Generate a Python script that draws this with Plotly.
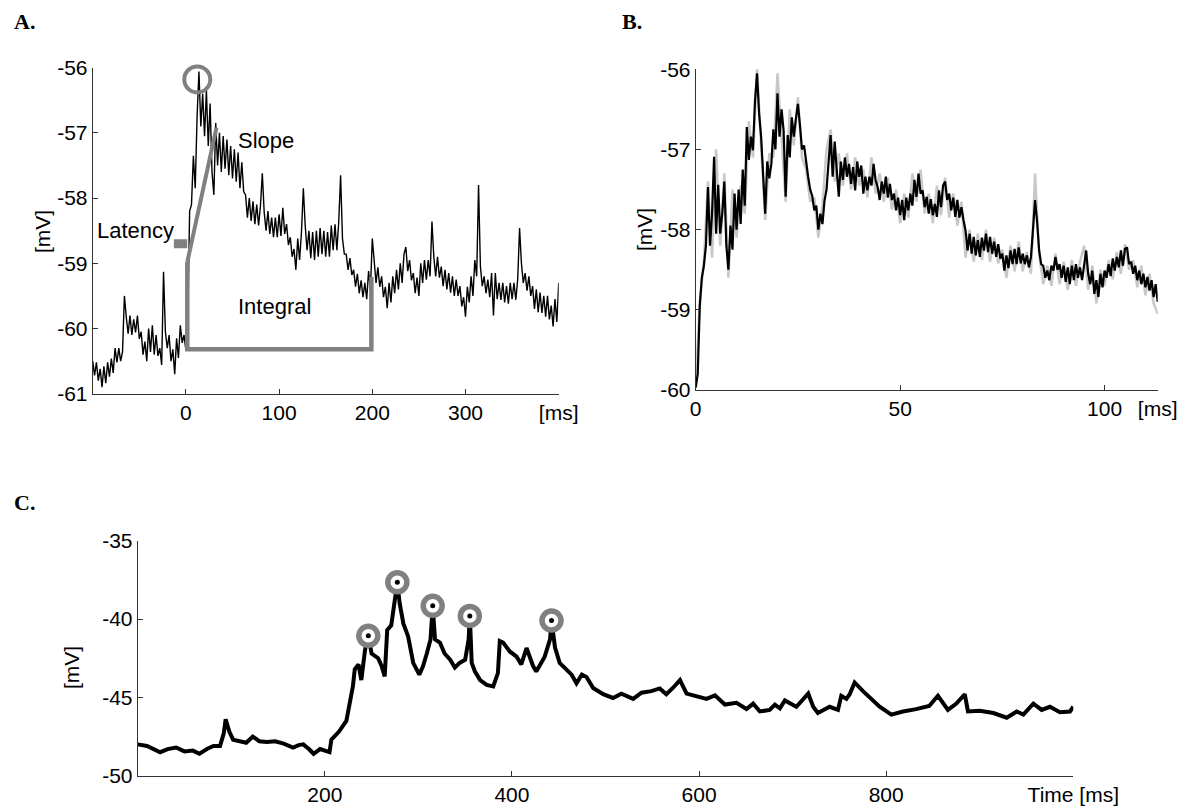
import plotly.graph_objects as go

# ---------------- Panel A: averaged response, sampled every 2 ms from -100 ms ----------------
A_T0 = -100
A_DT = 2
a_mv = [
    -60.50, -60.72, -60.52, -60.80, -60.62, -60.90, -60.58, -60.84, -60.52, -60.74,
    -60.46, -60.68, -60.30, -60.52, -60.30, -60.50, -60.36, -59.50, -59.82, -60.08,
    -59.80, -60.10, -59.86, -60.06, -59.80, -60.16, -60.05, -60.40, -60.20, -60.50,
    -60.00, -60.36, -59.95, -60.40, -60.10, -60.42, -60.30, -60.56, -59.13, -60.05,
    -60.30, -60.10, -60.50, -60.32, -60.70, -60.15, -60.45, -59.95, -60.22, -60.10,
    -60.34, -59.90, -58.20, -58.10, -57.35, -57.85, -56.75, -56.06, -56.90, -56.40,
    -57.05, -56.35, -57.20, -56.55, -57.60, -57.95, -56.85, -57.50, -57.00, -57.60,
    -57.05, -57.55, -57.10, -57.65, -57.20, -57.70, -57.25, -57.75, -57.30, -57.85,
    -57.45, -57.90, -57.95, -58.30, -58.00, -58.35, -58.05, -58.40, -58.10, -58.42,
    -58.12, -57.62, -58.22, -58.50, -58.20, -58.55, -58.30, -58.60, -58.30, -58.60,
    -58.25, -58.58, -58.15, -58.55, -58.40, -58.72, -58.60, -58.90, -58.78, -59.10,
    -58.62, -58.95, -58.52, -57.85, -58.42, -58.80, -58.50, -58.92, -58.52, -58.95,
    -58.50, -58.90, -58.46, -58.86, -58.50, -58.90, -58.52, -58.90, -58.42, -58.80,
    -58.40, -58.80, -58.36, -57.65, -58.62, -58.86, -58.86, -59.10, -58.92, -59.18,
    -59.10, -59.36, -59.16, -59.46, -59.26, -59.52, -59.30, -59.55, -59.12, -59.40,
    -58.62, -59.02, -59.30, -59.06, -59.36, -59.20, -59.52, -59.36, -59.69, -59.30,
    -59.60, -59.20, -59.46, -59.10, -59.40, -59.00, -59.30, -58.86, -58.75, -59.12,
    -58.95, -59.26, -59.15, -59.46, -59.22, -59.50, -59.00, -59.30, -58.95, -59.25,
    -58.95, -59.20, -58.36, -58.90, -59.20, -58.90, -59.22, -59.05, -59.35, -59.10,
    -59.40, -59.15, -59.45, -59.20, -59.50, -59.25, -59.50, -59.35, -59.66, -59.52,
    -59.82, -59.36, -59.60, -59.20, -59.50, -58.95, -59.20, -57.80, -59.05, -59.35,
    -59.20, -59.46, -59.25, -59.52, -59.15, -59.80, -59.15, -59.55, -59.30, -59.56,
    -59.30, -59.60, -59.35, -59.62, -59.30, -59.55, -59.30, -59.56, -59.25, -58.46,
    -59.00, -59.30, -59.15, -59.42, -59.20, -59.50, -59.35, -59.70, -59.40, -59.75,
    -59.45, -59.76, -59.50, -59.82, -59.50, -59.86, -59.65, -59.97, -59.55, -59.90,
    -59.30,
]
a_ms = [A_T0 + A_DT * i for i in range(len(a_mv))]

# ---------------- Panel B: single response (black) over a second sweep (grey) ----------------
B_DT = 0.5
b_mv = [
    -59.97, -59.80, -58.95, -58.60, -58.45, -58.20, -57.47, -58.20, -57.80, -57.09,
    -58.05, -57.44, -58.05, -57.80, -57.40, -58.20, -58.50, -57.95, -58.25, -57.55,
    -58.00, -57.50, -57.93, -57.25, -57.70, -56.72, -57.13, -56.84, -57.01, -56.40,
    -56.05, -56.55, -56.84, -57.42, -57.80, -57.15, -57.36, -57.18, -56.75, -57.00,
    -56.30, -56.84, -56.50, -56.76, -57.59, -56.82, -57.10, -56.60, -56.84, -56.62,
    -56.43, -56.70, -57.00, -56.95, -57.18, -57.34, -57.50, -57.58, -57.76, -57.70,
    -58.00, -57.80, -57.93, -57.64, -57.50, -57.10, -56.82, -57.34, -56.90, -57.26,
    -57.59, -57.15, -57.38, -57.10, -57.34, -57.18, -57.43, -57.22, -57.51, -57.15,
    -57.34, -57.20, -57.55, -57.34, -57.51, -57.34, -57.45, -57.18, -57.38, -57.47,
    -57.63, -57.40, -57.55, -57.34, -57.60, -57.43, -57.63, -57.55, -57.76, -57.60,
    -57.82, -57.63, -57.88, -57.60, -57.76, -57.55, -57.70, -57.38, -57.59, -57.30,
    -57.55, -57.51, -57.72, -57.59, -57.80, -57.62, -57.82, -57.68, -57.84, -57.51,
    -57.72, -57.45, -57.40, -57.63, -57.55, -57.76, -57.60, -57.84, -57.63, -57.85,
    -57.72, -57.88, -58.01, -58.26, -58.05, -58.30, -58.09, -58.32, -58.13, -58.34,
    -58.10, -58.26, -58.05, -58.28, -58.09, -58.30, -58.15, -58.34, -58.18, -58.36,
    -58.30, -58.51, -58.32, -58.48, -58.26, -58.43, -58.24, -58.43, -58.22, -58.42,
    -58.30, -58.43, -58.32, -58.47, -58.34, -58.00, -57.63, -57.90, -58.26, -58.43,
    -58.45, -58.60, -58.51, -58.63, -58.45, -58.51, -58.34, -58.50, -58.43, -58.60,
    -58.45, -58.65, -58.47, -58.68, -58.45, -58.63, -58.43, -58.60, -58.47, -58.63,
    -58.45, -58.26, -58.55, -58.68, -58.51, -58.80, -58.63, -58.84, -58.55, -58.72,
    -58.51, -58.60, -58.43, -58.58, -58.36, -58.51, -58.34, -58.47, -58.26, -58.45,
    -58.24, -58.22, -58.43, -58.40, -58.55, -58.45, -58.63, -58.51, -58.68, -58.55,
    -58.72, -58.59, -58.76, -58.63, -58.84, -58.68, -58.90,
]
b_ms = [B_DT * i for i in range(len(b_mv))]

BG_DT = 1.0
b_grey_mv = [
    -59.95, -58.90, -58.40, -57.40, -58.35, -57.00, -58.20, -57.30, -58.60, -57.50,
    -58.10, -57.45, -57.80, -56.65, -57.10, -55.98, -56.95, -57.88, -57.05, -57.10,
    -56.05, -56.90, -57.65, -56.50, -56.95, -56.35, -57.10, -57.25, -57.65, -57.60,
    -58.10, -57.70, -57.00, -56.75, -57.40, -57.05, -57.45, -57.05, -57.50, -57.10,
    -57.45, -57.25, -57.60, -57.10, -57.55, -57.30, -57.65, -57.35, -57.75, -57.50,
    -57.92, -57.55, -57.85, -57.30, -57.65, -57.25, -57.80, -57.55, -57.92, -57.45,
    -57.82, -57.35, -57.85, -57.55, -57.95, -57.65, -58.35, -58.00, -58.40, -58.05,
    -58.38, -58.00, -58.40, -58.10, -58.42, -58.25, -58.60, -58.20, -58.52, -58.15,
    -58.52, -58.28, -58.55, -57.30, -58.30, -58.68, -58.45, -58.70, -58.30, -58.68,
    -58.40, -58.75, -58.38, -58.70, -58.40, -58.20, -58.75, -58.45, -58.92, -58.50,
    -58.70, -58.38, -58.62, -58.28, -58.55, -58.18, -58.50, -58.38, -58.72, -58.45,
    -58.82, -58.55, -58.92, -59.05,
]
b_grey_ms = [BG_DT * i for i in range(len(b_grey_mv))]

# ---------------- Panel C: spiking sweep with detected peaks ----------------
c_ms = [
    0, 10, 24, 32, 41, 50, 59, 66, 74, 81, 88, 92, 94, 98, 102, 110, 116, 123, 130, 138,
    147, 156, 166, 172, 177, 183, 188, 195, 200, 205, 207, 215, 223, 227, 230, 232, 236, 239,
    243, 246.5, 250, 257, 260.7, 264, 266.7, 271, 274, 277.5, 280, 284, 289, 294.5, 301, 305,
    309, 313, 315.3, 317.8, 323, 328, 334, 339, 344, 350, 353.7, 355, 357, 360.5, 366, 373,
    380, 385, 387, 390.6, 397.7, 405, 410, 415.6, 422.6, 426, 435, 440.7, 442.3, 446, 451,
    458.4, 463.8, 469, 474.7, 479.7, 486.8, 497.5, 508, 517, 529.6, 538.5, 549, 558, 565,
    572, 579.6, 586.7, 595.5, 608, 617, 627.6, 640, 650.7, 657.8, 665, 675.5, 681, 686.4,
    691.7, 704, 716.7, 722, 727, 739.6, 748.5, 752, 757.5, 761, 766.3, 775.2, 784, 793,
    805.5, 818, 832, 846, 855.3, 866, 875, 884, 887.4, 900, 914.6, 928.8, 939.5, 946.6,
    957.3, 966.2, 975, 985.7, 996.4, 1000,
]
c_mv = [
    -48.0, -48.1, -48.5, -48.3, -48.2, -48.45, -48.4, -48.6, -48.3, -48.1, -48.1, -47.3,
    -46.4, -47.2, -47.7, -47.85, -47.9, -47.5, -47.8, -47.85, -47.8, -47.95, -48.2, -48.05,
    -48.0, -48.3, -48.6, -48.3, -48.4, -48.5, -47.7, -47.2, -46.5, -45.4, -44.3, -43.2,
    -42.9, -43.9, -41.96, -41.07, -42.2, -42.5, -43.0, -43.66, -40.7, -40.4, -39.2, -37.65,
    -39.0, -40.3, -41.1, -42.8, -43.55, -43.0, -42.2, -41.3, -39.16, -41.3, -41.5, -42.2,
    -42.6, -43.1, -42.8, -42.6, -41.3, -39.8, -42.8, -43.35, -43.9, -44.2, -44.3, -43.45,
    -41.4, -41.5, -42.07, -42.4, -42.9, -41.85, -43.0, -43.35, -42.4, -41.3, -40.1, -41.8,
    -42.8, -43.2, -43.55, -44.1, -43.55, -43.7, -44.4, -44.8, -45.04, -44.76, -45.1, -44.7,
    -44.6, -44.43, -44.8, -44.4, -43.9, -44.76, -44.9, -45.1, -44.87, -45.46, -45.35,
    -45.74, -45.4, -45.9, -45.8, -45.46, -45.7, -45.2, -45.6, -44.76, -45.6, -46.0, -45.6,
    -45.8, -44.9, -45.1, -44.8, -44.05, -44.6, -45.1, -45.6, -46.1, -45.9, -45.75, -45.55,
    -44.9, -45.8, -45.4, -44.8, -45.9, -45.85, -46.0, -46.3, -45.9, -46.1, -45.4, -45.8,
    -45.6, -45.95, -45.9, -45.6,
]
peak_ms = [246.5, 277.5, 315.3, 355, 442.3]
peak_mv = [-41.07, -37.65, -39.16, -39.8, -40.1]

# ---------------- Tick labels ----------------
a_xticks = [0, 100, 200, 300, 400]
a_xlabels = ["0", "100", "200", "300", "[ms]"]
a_yticks = [-56, -57, -58, -59, -60, -61]
a_ylabels = ["-56", "-57", "-58", "-59", "-60", "-61"]
b_xticks = [0, 50, 100, 113]
b_xlabels = ["0", "50", "100", "[ms]"]
b_yticks = [-56, -57, -58, -59, -60]
b_ylabels = ["-56", "-57", "-58", "-59", "-60"]
c_xticks = [200, 400, 600, 800, 1000]
c_xlabels = ["200", "400", "600", "800", "Time [ms]"]
c_yticks = [-35, -40, -45, -50]
c_ylabels = ["-35", "-40", "-45", "-50"]

W, H = 1186, 810
FONT = "Liberation Sans, Arial, sans-serif"
GREY = "#808080"
AXC = "#333333"


def px(x):
    return x / W


def py(y):
    return 1 - y / H


fig = go.Figure()

# Panel A trace and measurement overlays
fig.add_trace(go.Scatter(x=a_ms, y=a_mv, mode="lines", line=dict(color="black", width=1.4),
                         xaxis="x", yaxis="y", hoverinfo="skip"))
fig.add_trace(go.Scatter(x=[1.5, 1.5, 199, 199], y=[-58.98, -60.32, -60.32, -59.21], mode="lines",
                         line=dict(color=GREY, width=4.5), xaxis="x", yaxis="y"))
fig.add_trace(go.Scatter(x=[1.5, 32.8], y=[-58.98, -56.92], mode="lines",
                         line=dict(color=GREY, width=4), xaxis="x", yaxis="y"))
fig.add_trace(go.Scatter(x=[-12.9, 1.4], y=[-58.70, -58.70], mode="lines",
                         line=dict(color=GREY, width=9), xaxis="x", yaxis="y"))
fig.add_trace(go.Scatter(x=[12.2], y=[-56.18], mode="markers",
                         marker=dict(symbol="circle-open", size=26, color=GREY,
                                     line=dict(color=GREY, width=4)),
                         xaxis="x", yaxis="y", cliponaxis=False))

# Panel B traces
fig.add_trace(go.Scatter(x=b_grey_ms, y=b_grey_mv, mode="lines", line=dict(color="#c8c8c8", width=2.5),
                         xaxis="x2", yaxis="y2", hoverinfo="skip"))
fig.add_trace(go.Scatter(x=b_ms, y=b_mv, mode="lines", line=dict(color="black", width=2.2),
                         xaxis="x2", yaxis="y2", hoverinfo="skip"))

# Panel C trace and peak markers
fig.add_trace(go.Scatter(x=c_ms, y=c_mv, mode="lines", line=dict(color="black", width=4),
                         xaxis="x3", yaxis="y3", hoverinfo="skip"))
fig.add_trace(go.Scatter(x=peak_ms, y=peak_mv, mode="markers",
                         marker=dict(symbol="circle", size=19, color="white",
                                     line=dict(color=GREY, width=5.5)),
                         xaxis="x3", yaxis="y3", cliponaxis=False))
fig.add_trace(go.Scatter(x=peak_ms, y=peak_mv, mode="markers",
                         marker=dict(symbol="circle", size=5, color="black"),
                         xaxis="x3", yaxis="y3", cliponaxis=False))

tickfont = dict(family=FONT, size=21, color="black")


def axis(domain, rng, tickvals, ticktext, anchor):
    return dict(domain=domain, range=rng, tickvals=tickvals, ticktext=ticktext,
                anchor=anchor, showline=True, linecolor=AXC, linewidth=1,
                ticks="inside", ticklen=5, tickcolor=AXC, tickwidth=1,
                showgrid=False, zeroline=False, tickfont=tickfont, fixedrange=True,
                automargin=False)


annots = []


def text(x, y, s, size=22, xanchor="center", angle=0, xref="paper", yref="paper", bold=False, serif=False):
    fam = "Liberation Serif, Times New Roman, serif" if serif else FONT
    annots.append(dict(x=x, y=y, xref=xref, yref=yref, text=f"<b>{s}</b>" if bold else s,
                       showarrow=False, xanchor=xanchor, yanchor="middle", textangle=angle,
                       font=dict(family=fam, size=size, color="black")))


# Panel letters
text(px(12), py(22), "A.", size=22, xanchor="left", bold=True, serif=True)
text(px(620), py(22), "B.", size=22, xanchor="left", bold=True, serif=True)
text(px(12), py(502), "C.", size=22, xanchor="left", bold=True, serif=True)

# Y axis titles
text(px(42), py(232), "[mV]", size=21, angle=-90)
text(px(645), py(230), "[mV]", size=21, angle=-90)
text(px(71), py(668), "[mV]", size=21, angle=-90)

# Panel A labels
text(29.7, -55.80, "Amplitude", xanchor="left", xref="x", yref="y")
text(53.4, -57.11, "Slope", xanchor="left", xref="x", yref="y")
text(-11.0, -58.49, "Latency", xanchor="right", xref="x", yref="y")
text(94.6, -59.67, "Integral", xref="x", yref="y")

fig.update_layout(
    template="none",
    width=W, height=H,
    margin=dict(l=0, r=0, t=0, b=0, autoexpand=False),
    paper_bgcolor="white", plot_bgcolor="white",
    showlegend=False,
    xaxis=axis([px(92.7), px(558.7)], [-100, 400], a_xticks, a_xlabels, "y"),
    yaxis=axis([py(393.7), py(67.7)], [-61, -56], a_yticks, a_ylabels, "x"),
    xaxis2=axis([px(695.7), px(1157.7)], [0, 113], b_xticks, b_xlabels, "y2"),
    yaxis2=axis([py(390), py(69.3)], [-60, -56], b_yticks, b_ylabels, "x2"),
    xaxis3=axis([px(137.7), px(1073.3)], [0, 1000], c_xticks, c_xlabels, "y3"),
    yaxis3=axis([py(775.7), py(540.7)], [-50, -35], c_yticks, c_ylabels, "x3"),
    annotations=annots,
)

fig.write_html("out.html")
